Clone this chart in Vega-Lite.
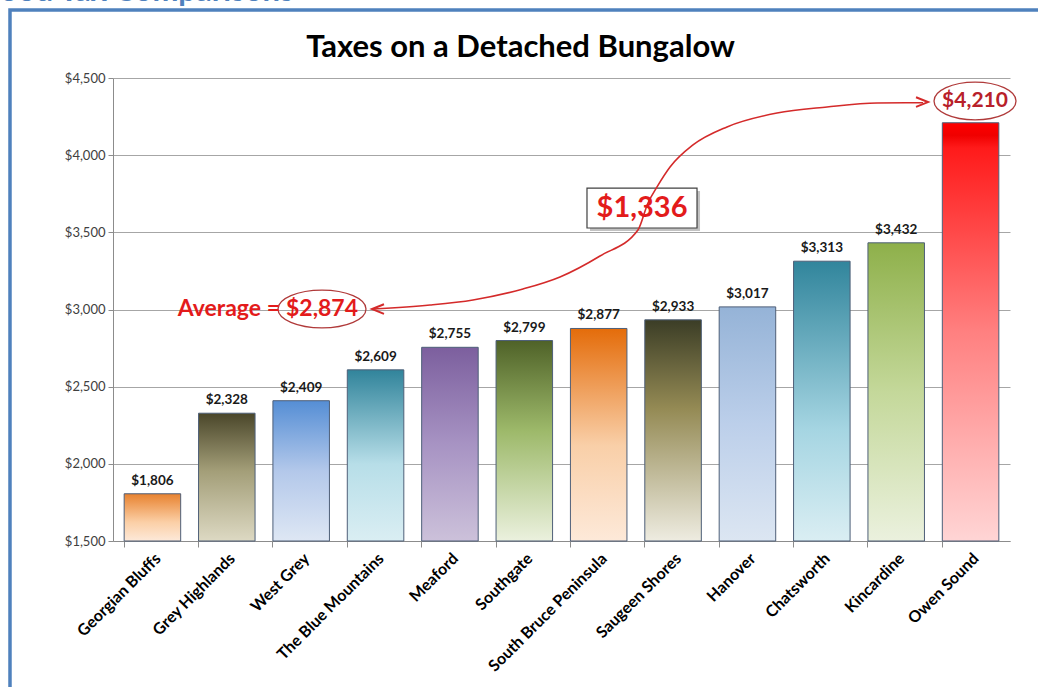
{
  "$schema": "https://vega.github.io/schema/vega-lite/v6.json",
  "width": 897,
  "height": 463,
  "autosize": {"type": "none"},
  "padding": {"left": 113, "top": 78, "right": 28, "bottom": 146},
  "background": "white",
  "config": {"font": "Lato", "view": {"stroke": null}},
  "title": {"text": "Taxes on a Detached Bungalow", "fontSize": 31, "font": "Lato", "fontWeight": "bold", "color": "#000000", "anchor": "middle", "dx": -41, "baseline": "alphabetic", "offset": -112},
  "datasets": {
    "taxes": [
      {"name": "Georgian Bluffs", "tax": 1806},
      {"name": "Grey Highlands", "tax": 2328},
      {"name": "West Grey", "tax": 2409},
      {"name": "The Blue Mountains", "tax": 2609},
      {"name": "Meaford", "tax": 2755},
      {"name": "Southgate", "tax": 2799},
      {"name": "South Bruce Peninsula", "tax": 2877},
      {"name": "Saugeen Shores", "tax": 2933},
      {"name": "Hanover", "tax": 3017},
      {"name": "Chatsworth", "tax": 3313},
      {"name": "Kincardine", "tax": 3432},
      {"name": "Owen Sound", "tax": 4210}
    ],
    "curve": [
      {"x": 3.478, "y": 3003}, {"x": 4.241, "y": 3029}, {"x": 4.816, "y": 3062}, {"x": 5.485, "y": 3133},
      {"x": 5.98, "y": 3211}, {"x": 6.515, "y": 3347}, {"x": 7.023, "y": 3515}, {"x": 7.157, "y": 3690},
      {"x": 7.278, "y": 3794}, {"x": 7.452, "y": 3923}, {"x": 7.759, "y": 4066}, {"x": 8.214, "y": 4183},
      {"x": 8.883, "y": 4273}, {"x": 9.552, "y": 4312}, {"x": 10.221, "y": 4338}, {"x": 10.836, "y": 4340}
    ],
    "arrows": [
      {"x": 3.545, "y": 3003, "dir": "L"},
      {"x": 10.823, "y": 4344, "dir": "R"}
    ],
    "ellipses": [
      {"x": 2.796, "y": 3003, "w": "avg"},
      {"x": 11.532, "y": 4351, "w": "max"}
    ],
    "frame": [{"x": -1.378, "x2": 13.5, "y": 4940, "y2": 200}],
    "box": [{"x": 6.341, "x2": 7.813, "y": 3528, "y2": 3787}],
    "boxshadow": [{"x": 6.381, "x2": 7.853, "y": 3509, "y2": 3768}],
    "avgtext": [{"x": 2.234, "y": 3003, "t": "Average ="}],
    "labels": [
      {"x": 2.796, "y": 3003, "t": "$2,874", "kind": "avgval"},
      {"x": 11.532, "y": 4351, "t": "$4,210", "kind": "max"}
    ],
    "diff": [{"x": 7.077, "y": 3658, "t": "$1,336"}],
    "header": [{"x": -1.512, "y": 4996, "t": "ood Tax Comparisons"}]
  },
  "resolve": {"scale": {"x": "independent", "shape": "independent", "size": "independent"}},
  "layer": [
    {
      "data": {"name": "frame"},
      "mark": {"type": "rect", "fill": null, "stroke": "#4F81BD", "strokeWidth": 3.5, "clip": false},
      "encoding": {
        "x": {"field": "x", "type": "quantitative", "scale": {"domain": [0, 12], "nice": false, "zero": false}, "axis": null},
        "x2": {"field": "x2"},
        "y": {"field": "y", "type": "quantitative", "scale": {"domain": [1500, 4500], "nice": false, "zero": false}},
        "y2": {"field": "y2"}
      }
    },
    {
      "data": {"name": "header"},
      "mark": {"type": "text", "align": "left", "baseline": "alphabetic", "fontSize": 31, "fontWeight": "bold", "color": "#4F81BD"},
      "encoding": {
        "x": {"field": "x", "type": "quantitative", "scale": {"domain": [0, 12], "nice": false, "zero": false}, "axis": null},
        "y": {"field": "y", "type": "quantitative", "scale": {"domain": [1500, 4500], "nice": false, "zero": false}},
        "text": {"field": "t"}
      }
    },
    {
      "data": {"name": "taxes"},
      "encoding": {
        "x": {"field": "name", "type": "nominal", "sort": null,
          "scale": {"paddingInner": 0.24, "paddingOuter": 0.15},
          "axis": {"title": null, "labelAngle": -45, "labelFontSize": 16, "labelFontWeight": "bold", "labelColor": "#000000", "domainColor": "#8C8C8C", "tickColor": "#8C8C8C", "tickSize": 6, "bandPosition": 0, "labelPadding": 3, "grid": false}},
        "y": {"field": "tax", "type": "quantitative",
          "scale": {"domain": [1500, 4500], "nice": false, "zero": false},
          "axis": {"title": null, "values": [1500, 2000, 2500, 3000, 3500, 4000, 4500], "format": "$,.0f", "labelFontSize": 13, "labelColor": "#404040", "domainColor": "#8C8C8C", "tickColor": "#8C8C8C", "tickSize": 5, "gridColor": "#A6A6A6", "gridWidth": 1, "labelPadding": 3}}
      },
      "layer": [
        {
          "mark": {"type": "bar", "stroke": "#4E5F78", "strokeWidth": 1},
          "encoding": {
            "y2": {"datum": 1500},
            "fill": {
              "condition": [
                {"test": "datum.name === 'Georgian Bluffs'", "value": {"gradient": "linear", "x1": 0, "y1": 0, "x2": 0, "y2": 1, "stops": [{"offset": 0, "color": "#E8822F"}, {"offset": 0.6, "color": "#FBCFA6"}, {"offset": 1, "color": "#FDE9D9"}]}},
                {"test": "datum.name === 'Grey Highlands'", "value": {"gradient": "linear", "x1": 0, "y1": 0, "x2": 0, "y2": 1, "stops": [{"offset": 0, "color": "#4A462A"}, {"offset": 0.45, "color": "#A39E78"}, {"offset": 1, "color": "#DDD9C3"}]}},
                {"test": "datum.name === 'West Grey'", "value": {"gradient": "linear", "x1": 0, "y1": 0, "x2": 0, "y2": 1, "stops": [{"offset": 0, "color": "#558ED5"}, {"offset": 0.5, "color": "#B3C8EA"}, {"offset": 1, "color": "#DEE7F4"}]}},
                {"test": "datum.name === 'The Blue Mountains'", "value": {"gradient": "linear", "x1": 0, "y1": 0, "x2": 0, "y2": 1, "stops": [{"offset": 0, "color": "#31849B"}, {"offset": 0.55, "color": "#B7DEE8"}, {"offset": 1, "color": "#DAEEF3"}]}},
                {"test": "datum.name === 'Meaford'", "value": {"gradient": "linear", "x1": 0, "y1": 0, "x2": 0, "y2": 1, "stops": [{"offset": 0, "color": "#7C5F9E"}, {"offset": 0.5, "color": "#A793C3"}, {"offset": 1, "color": "#CCC1DA"}]}},
                {"test": "datum.name === 'Southgate'", "value": {"gradient": "linear", "x1": 0, "y1": 0, "x2": 0, "y2": 1, "stops": [{"offset": 0, "color": "#4F6228"}, {"offset": 0.45, "color": "#9DB96A"}, {"offset": 1, "color": "#EBF1DE"}]}},
                {"test": "datum.name === 'South Bruce Peninsula'", "value": {"gradient": "linear", "x1": 0, "y1": 0, "x2": 0, "y2": 1, "stops": [{"offset": 0, "color": "#E46C0A"}, {"offset": 0.55, "color": "#F9CFA8"}, {"offset": 1, "color": "#FDE9D9"}]}},
                {"test": "datum.name === 'Saugeen Shores'", "value": {"gradient": "linear", "x1": 0, "y1": 0, "x2": 0, "y2": 1, "stops": [{"offset": 0, "color": "#3B3D26"}, {"offset": 0.4, "color": "#948A54"}, {"offset": 1, "color": "#EEECE1"}]}},
                {"test": "datum.name === 'Hanover'", "value": {"gradient": "linear", "x1": 0, "y1": 0, "x2": 0, "y2": 1, "stops": [{"offset": 0, "color": "#95B3D7"}, {"offset": 0.5, "color": "#BCCFEA"}, {"offset": 1, "color": "#DCE6F2"}]}},
                {"test": "datum.name === 'Chatsworth'", "value": {"gradient": "linear", "x1": 0, "y1": 0, "x2": 0, "y2": 1, "stops": [{"offset": 0, "color": "#31859C"}, {"offset": 0.6, "color": "#A5D5E2"}, {"offset": 1, "color": "#DAEEF3"}]}},
                {"test": "datum.name === 'Kincardine'", "value": {"gradient": "linear", "x1": 0, "y1": 0, "x2": 0, "y2": 1, "stops": [{"offset": 0, "color": "#8EB04A"}, {"offset": 0.5, "color": "#C4D89A"}, {"offset": 1, "color": "#EBF1DE"}]}},
                {"test": "datum.name === 'Owen Sound'", "value": {"gradient": "linear", "x1": 0, "y1": 0, "x2": 0, "y2": 1, "stops": [{"offset": 0, "color": "#FF0000"}, {"offset": 0.03, "color": "#F00000"}, {"offset": 0.06, "color": "#FF1A1A"}, {"offset": 0.5, "color": "#FF8080"}, {"offset": 1, "color": "#FFD5D5"}]}}
              ],
              "value": "#CCCCCC"
            }
          }
        },
        {
          "mark": {"type": "text", "baseline": "alphabetic", "dy": -9, "fontSize": 13.5, "fontWeight": "bold", "color": "#1A1A1A"},
          "transform": [{"filter": "datum.name !== 'Owen Sound'"}],
          "encoding": {"text": {"field": "tax", "type": "quantitative", "format": "$,.0f"}}
        }
      ]
    },
    {
      "mark": {"type": "rule", "color": "#E31B1B", "strokeWidth": 4, "strokeDash": [18, 11]},
      "encoding": {"y": {"datum": 2874, "type": "quantitative", "scale": {"domain": [1500, 4500], "nice": false, "zero": false}}}
    },
    {
      "data": {"name": "boxshadow"},
      "mark": {"type": "rect", "fill": "#9A9A9A", "opacity": 0.6},
      "encoding": {
        "x": {"field": "x", "type": "quantitative", "scale": {"domain": [0, 12], "nice": false, "zero": false}, "axis": null},
        "x2": {"field": "x2"},
        "y": {"field": "y", "type": "quantitative", "scale": {"domain": [1500, 4500], "nice": false, "zero": false}},
        "y2": {"field": "y2"}
      }
    },
    {
      "data": {"name": "box"},
      "mark": {"type": "rect", "fill": "white", "stroke": "#404040", "strokeWidth": 1.2},
      "encoding": {
        "x": {"field": "x", "type": "quantitative", "scale": {"domain": [0, 12], "nice": false, "zero": false}, "axis": null},
        "x2": {"field": "x2"},
        "y": {"field": "y", "type": "quantitative", "scale": {"domain": [1500, 4500], "nice": false, "zero": false}},
        "y2": {"field": "y2"}
      }
    },
    {
      "data": {"name": "curve"},
      "mark": {"type": "line", "color": "#D42A2A", "strokeWidth": 1.6, "interpolate": "monotone"},
      "encoding": {
        "x": {"field": "x", "type": "quantitative", "scale": {"domain": [0, 12], "nice": false, "zero": false}, "axis": null},
        "y": {"field": "y", "type": "quantitative", "scale": {"domain": [1500, 4500], "nice": false, "zero": false}}
      }
    },
    {
      "data": {"name": "arrows"},
      "mark": {"type": "point", "filled": false, "stroke": "#D42A2A", "strokeWidth": 2, "size": 144, "opacity": 1},
      "encoding": {
        "x": {"field": "x", "type": "quantitative", "scale": {"domain": [0, 12], "nice": false, "zero": false}, "axis": null},
        "y": {"field": "y", "type": "quantitative", "scale": {"domain": [1500, 4500], "nice": false, "zero": false}},
        "shape": {"field": "dir", "type": "nominal", "scale": {"domain": ["L", "R"], "range": ["M1,-0.8L-1,0L1,0.8", "M-1,-0.8L1,0L-1,0.8"]}, "legend": null}
      }
    },
    {
      "data": {"name": "ellipses"},
      "mark": {"type": "point", "filled": false, "stroke": "#B03A3A", "strokeWidth": 1.3, "opacity": 1},
      "encoding": {
        "x": {"field": "x", "type": "quantitative", "scale": {"domain": [0, 12], "nice": false, "zero": false}, "axis": null},
        "y": {"field": "y", "type": "quantitative", "scale": {"domain": [1500, 4500], "nice": false, "zero": false}},
        "shape": {"field": "w", "type": "nominal", "scale": {"domain": ["avg", "max"], "range": ["M-1,0C-1,-0.2375,-0.5523,-0.43,0,-0.43C0.5523,-0.43,1,-0.2375,1,0C1,0.2375,0.5523,0.43,0,0.43C-0.5523,0.43,-1,0.2375,-1,0Z", "M-1,0C-1,-0.254,-0.5523,-0.46,0,-0.46C0.5523,-0.46,1,-0.254,1,0C1,0.254,0.5523,0.46,0,0.46C-0.5523,0.46,-1,0.254,-1,0Z"]}, "legend": null},
        "size": {"field": "w", "type": "nominal", "scale": {"domain": ["avg", "max"], "range": [7744, 6724]}, "legend": null}
      }
    },
    {
      "data": {"name": "avgtext"},
      "mark": {"type": "text", "baseline": "middle", "align": "right", "fontSize": 23, "fontWeight": "bold", "color": "#E31B1B"},
      "encoding": {
        "x": {"field": "x", "type": "quantitative", "scale": {"domain": [0, 12], "nice": false, "zero": false}, "axis": null},
        "y": {"field": "y", "type": "quantitative", "scale": {"domain": [1500, 4500], "nice": false, "zero": false}},
        "text": {"field": "t"}
      }
    },
    {
      "data": {"name": "labels"},
      "mark": {"type": "text", "baseline": "middle", "align": "center", "fontWeight": "bold"},
      "encoding": {
        "x": {"field": "x", "type": "quantitative", "scale": {"domain": [0, 12], "nice": false, "zero": false}, "axis": null},
        "y": {"field": "y", "type": "quantitative", "scale": {"domain": [1500, 4500], "nice": false, "zero": false}},
        "text": {"field": "t"},
        "size": {"condition": {"test": "datum.kind === 'max'", "value": 21}, "value": 23},
        "color": {"condition": {"test": "datum.kind === 'max'", "value": "#B8202A"}, "value": "#E31B1B"}
      }
    },
    {
      "data": {"name": "diff"},
      "mark": {"type": "text", "baseline": "middle", "align": "center", "fontSize": 29, "fontWeight": "bold", "color": "#E31B1B"},
      "encoding": {
        "x": {"field": "x", "type": "quantitative", "scale": {"domain": [0, 12], "nice": false, "zero": false}, "axis": null},
        "y": {"field": "y", "type": "quantitative", "scale": {"domain": [1500, 4500], "nice": false, "zero": false}},
        "text": {"field": "t"}
      }
    }
  ]
}
